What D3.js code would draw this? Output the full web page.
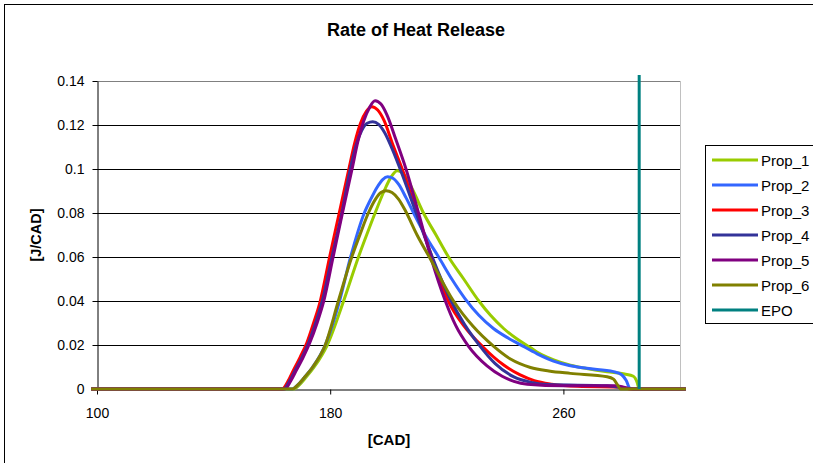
<!DOCTYPE html>
<html>
<head>
<meta charset="utf-8">
<script src="https://cdn.jsdelivr.net/npm/d3@7"></script>
<style>
  body { margin: 0; background: #fff; }
  text { font-family: Arial, "Liberation Sans", sans-serif; }
</style>
</head>
<body>
<div id="chart"></div>
<script>
// series data, [CAD, J/CAD]
var prop1 = [[98,0],[167.5,0],[169.5,0.002],[171.5,0.005],[174.5,0.01],[179,0.02],[184.6,0.04],[189.7,0.06],[192.5,0.07],[195.4,0.08],[198.5,0.09],[200.8,0.0962],[203,0.0992],[205.5,0.0972],[208.5,0.09],[212,0.08],[216.3,0.07],[220.6,0.06],[225.8,0.05],[231,0.04],[235,0.0335],[239.5,0.0275],[244,0.0228],[248.7,0.0188],[252.7,0.0155],[256.7,0.0132],[262.4,0.0108],[268,0.0093],[275,0.0078],[281,0.0068],[284,0.0058],[285.3,0.003],[286,0],[302,0]];
var prop2 = [[98,0],[167,0],[169,0.002],[171,0.005],[174,0.01],[178.3,0.02],[183.2,0.04],[187,0.06],[191.7,0.08],[194,0.0865],[196,0.0915],[198,0.0952],[199.7,0.0965],[201.5,0.0958],[203.5,0.093],[206,0.087],[209,0.079],[213,0.069],[217.2,0.06],[221.7,0.05],[226.3,0.041],[231,0.0335],[236,0.0275],[241,0.0232],[245,0.0203],[251,0.016],[256.6,0.0127],[262,0.0107],[268,0.0094],[277.2,0.0079],[280,0.0065],[281.5,0.004],[283,0],[302,0]];
var prop3 = [[98,0],[163.5,0],[165.5,0.0035],[167.4,0.0086],[169.7,0.0145],[172,0.021],[174.3,0.03],[176.6,0.04],[179.8,0.06],[183.1,0.08],[186.4,0.1],[188.4,0.1118],[190.4,0.1208],[192.4,0.1262],[194.3,0.1283],[196.3,0.1268],[198.5,0.122],[201.5,0.111],[204.7,0.1],[209.8,0.08],[214.9,0.06],[220.5,0.04],[226,0.0285],[232.5,0.019],[239.4,0.011],[245,0.0065],[250,0.0038],[256,0.0022],[265,0.0012],[280,0.0008],[283,0],[302,0]];
var prop4 = [[98,0],[164,0],[166,0.0035],[167.8,0.008],[170.2,0.014],[172.6,0.021],[175,0.03],[177.3,0.04],[180.6,0.06],[184,0.08],[186.9,0.1],[188.8,0.1105],[190.8,0.1175],[192.7,0.1208],[194.6,0.1215],[196.6,0.1203],[198.7,0.1165],[201.3,0.109],[204,0.1],[209.5,0.08],[215,0.06],[221.5,0.04],[226,0.0295],[230.8,0.0205],[236.6,0.0115],[243,0.0055],[249,0.003],[255,0.002],[275,0.0015],[284,0],[302,0]];
var prop5 = [[98,0],[164.5,0],[166.4,0.0035],[168.2,0.008],[170.6,0.014],[173,0.021],[175.5,0.03],[177.8,0.04],[181,0.06],[184.2,0.08],[187.5,0.1],[189.5,0.1125],[191.5,0.1218],[193.5,0.128],[195.4,0.131],[197.4,0.1295],[199.5,0.1245],[202.5,0.1135],[206,0.1],[210.3,0.08],[214.5,0.06],[219.5,0.04],[223,0.029],[227.4,0.0195],[233.8,0.0105],[239,0.0058],[243,0.0035],[247.6,0.0022],[260,0.0015],[278,0.0015],[284,0],[302,0]];
var prop6 = [[98,0],[167,0],[169,0.002],[171,0.005],[174,0.01],[178.3,0.02],[182.8,0.04],[187.4,0.06],[190.3,0.0705],[193.1,0.08],[195.5,0.0862],[197.4,0.0893],[199.2,0.0901],[201.2,0.0893],[203.5,0.0862],[205.8,0.081],[209.8,0.07],[214,0.06],[222.3,0.04],[229,0.0285],[236,0.0195],[242,0.0135],[248.7,0.0098],[255,0.0082],[262.4,0.0071],[275,0.0056],[277.2,0.0045],[278.5,0.002],[279.6,0],[302,0]];
var epo = [[286,0],[286,0.1427]];

var seriesNames = ["Prop_1", "Prop_2", "Prop_3", "Prop_4", "Prop_5", "Prop_6", "EPO"];
var seriesData = [prop1, prop2, prop3, prop4, prop5, prop6, epo];
var colors = ["#99cc00", "#3366ff", "#ff0000", "#333399", "#800080", "#808000", "#008080"];

var yTicks = [0, 0.02, 0.04, 0.06, 0.08, 0.1, 0.12, 0.14];
var xTicks = [100, 180, 260];

var w = 813;
var h = 463;

var svg = d3
  .select("#chart")
  .append("svg")
  .attr("width", w)
  .attr("height", h);

// chart border
svg
  .append("rect")
  .attr("x", 4.5)
  .attr("y", 4.5)
  .attr("width", 830)
  .attr("height", 480)
  .attr("fill", "#fff")
  .attr("stroke", "#000");

var xScale = d3.scaleLinear().domain([100, 300]).range([97, 680]);
var yScale = d3.scaleLinear().domain([0, 0.14]).range([389, 81]);

// grid lines
svg
  .append("g")
  .selectAll("line")
  .data(yTicks.slice(1, 7))
  .enter()
  .append("line")
  .attr("x1", xScale(100))
  .attr("x2", xScale(300))
  .attr("y1", function(d) { return Math.round(yScale(d)) + 0.5; })
  .attr("y2", function(d) { return Math.round(yScale(d)) + 0.5; })
  .attr("stroke", "#000");

// plot area border (top + right)
svg
  .append("line")
  .attr("x1", xScale(100)).attr("x2", xScale(300))
  .attr("y1", yScale(0.14) + 0.5).attr("y2", yScale(0.14) + 0.5)
  .attr("stroke", "#808080");
svg
  .append("line")
  .attr("x1", xScale(300) + 0.5).attr("x2", xScale(300) + 0.5)
  .attr("y1", yScale(0.14)).attr("y2", yScale(0))
  .attr("stroke", "#c0c0c0");

// axes
var yAxis = d3
  .axisLeft(yScale)
  .tickValues(yTicks)
  .tickSize(5)
  .tickSizeOuter(0)
  .tickPadding(8)
  .tickFormat(function(d) { return String(+d.toFixed(2)); });
var xAxis = d3
  .axisBottom(xScale)
  .tickValues(xTicks)
  .tickSize(5)
  .tickSizeOuter(0)
  .tickPadding(14)
  .tickFormat(d3.format("d"));

svg
  .append("g")
  .attr("transform", "translate(0," + (yScale(0) + 0.5) + ")")
  .call(xAxis);
svg
  .append("g")
  .attr("transform", "translate(" + (xScale(100) + 0.5) + ",0)")
  .call(yAxis);

svg.selectAll(".tick text")
  .attr("font-family", "Arial, 'Liberation Sans', sans-serif")
  .attr("font-size", "14px")
  .attr("fill", "#000");
svg.selectAll(".domain, .tick line").attr("stroke", "#000");

// series lines
var line = d3
  .line()
  .x(function(d) { return xScale(d[0]); })
  .y(function(d) { return yScale(d[1]); })
  .curve(d3.curveMonotoneX);
var straight = d3
  .line()
  .x(function(d) { return xScale(d[0]); })
  .y(function(d) { return yScale(d[1]); });

for (var i = 0; i < seriesData.length; i++) {
  svg
    .append("path")
    .attr("d", i == 6 ? straight(seriesData[i]) : line(seriesData[i]))
    .attr("fill", "none")
    .attr("stroke", colors[i])
    .attr("stroke-width", 3)
    .attr("stroke-linejoin", "round");
}

// title and axis titles
svg
  .append("text")
  .text("Rate of Heat Release")
  .attr("x", 416)
  .attr("y", 36)
  .attr("text-anchor", "middle")
  .attr("font-size", "18px")
  .attr("font-weight", "bold");

svg
  .append("text")
  .text("[CAD]")
  .attr("x", 389)
  .attr("y", 445)
  .attr("text-anchor", "middle")
  .attr("font-size", "15px")
  .attr("font-weight", "bold");

svg
  .append("text")
  .text("[J/CAD]")
  .attr("transform", "translate(41,235) rotate(-90)")
  .attr("text-anchor", "middle")
  .attr("font-size", "14.5px")
  .attr("font-weight", "bold");

// legend
var legend = svg.append("g");
legend
  .append("rect")
  .attr("x", 705.5)
  .attr("y", 145.5)
  .attr("width", 120)
  .attr("height", 178)
  .attr("fill", "#fff")
  .attr("stroke", "#000");

for (var k = 0; k < seriesNames.length; k++) {
  var ly = 160 + k * 25;
  legend
    .append("line")
    .attr("x1", 712)
    .attr("x2", 758)
    .attr("y1", ly)
    .attr("y2", ly)
    .attr("stroke", colors[k])
    .attr("stroke-width", 3);
  legend
    .append("text")
    .text(seriesNames[k])
    .attr("x", 761)
    .attr("y", ly + 5.5)
    .attr("font-size", "15px")
    .attr("fill", "#000");
}
</script>
</body>
</html>
